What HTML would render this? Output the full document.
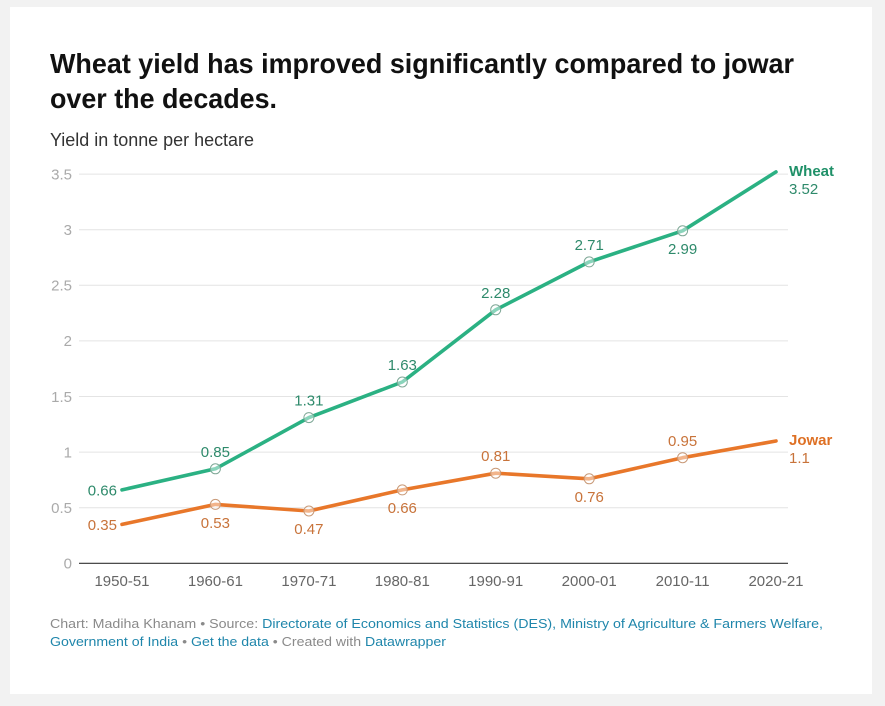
<!DOCTYPE html>
<html>
<head>
<meta charset="utf-8">
<style>
  html, body { margin: 0; padding: 0; background: #f2f2f2; }
  svg { display: block; }
  text { font-family: "Liberation Sans", Arial, sans-serif; }
</style>
</head>
<body>
<svg width="885" height="706" viewBox="0 0 885 706" xmlns="http://www.w3.org/2000/svg">
  <rect x="0" y="0" width="885" height="706" fill="#f2f2f2"/>
  <rect x="10" y="7" width="862" height="687" fill="#ffffff"/>

  <!-- Title -->
  <text x="50" y="73" font-size="28" font-weight="bold" fill="#111" textLength="744" lengthAdjust="spacingAndGlyphs">Wheat yield has improved significantly compared to jowar</text>
  <text x="50" y="108" font-size="28" font-weight="bold" fill="#111" textLength="227" lengthAdjust="spacingAndGlyphs">over the decades.</text>
  <text x="50" y="146" font-size="18" fill="#333" textLength="204" lengthAdjust="spacingAndGlyphs">Yield in tonne per hectare</text>

  <!-- Gridlines -->
  <g stroke="#e4e4e4" stroke-width="1">
    <line x1="79" y1="174.1" x2="788" y2="174.1"/>
    <line x1="79" y1="229.7" x2="788" y2="229.7"/>
    <line x1="79" y1="285.3" x2="788" y2="285.3"/>
    <line x1="79" y1="340.9" x2="788" y2="340.9"/>
    <line x1="79" y1="396.5" x2="788" y2="396.5"/>
    <line x1="79" y1="452.1" x2="788" y2="452.1"/>
    <line x1="79" y1="507.7" x2="788" y2="507.7"/>
  </g>
  <line x1="79" y1="563.3" x2="788" y2="563.3" stroke="#333" stroke-width="1.2"/>

  <!-- Y tick labels -->
  <g font-size="15" fill="#aaaaaa" text-anchor="end">
    <text x="72" y="179.5">3.5</text>
    <text x="72" y="235">3</text>
    <text x="72" y="290.5">2.5</text>
    <text x="72" y="346">2</text>
    <text x="72" y="402">1.5</text>
    <text x="72" y="457.5">1</text>
    <text x="72" y="513">0.5</text>
    <text x="72" y="568.5">0</text>
  </g>

  <!-- X tick labels -->
  <g font-size="15" fill="#666" text-anchor="middle">
    <text x="122" y="586">1950-51</text>
    <text x="215.4" y="586">1960-61</text>
    <text x="308.9" y="586">1970-71</text>
    <text x="402.3" y="586">1980-81</text>
    <text x="495.7" y="586">1990-91</text>
    <text x="589.2" y="586">2000-01</text>
    <text x="682.6" y="586">2010-11</text>
    <text x="776" y="586">2020-21</text>
  </g>

  <!-- Jowar line -->
  <polyline fill="none" stroke="#e8772a" stroke-width="3.6" stroke-linejoin="round" stroke-linecap="round"
    points="122,524.4 215.4,504.4 308.9,511 402.3,489.9 495.7,473.2 589.2,478.8 682.6,457.7 776,441"/>
  <!-- Wheat line -->
  <polyline fill="none" stroke="#2bb183" stroke-width="3.6" stroke-linejoin="round" stroke-linecap="round"
    points="122,489.9 215.4,468.8 308.9,417.6 402.3,382 495.7,309.8 589.2,261.9 682.6,230.8 776,171.9"/>

  <!-- markers -->
  <g fill="#ffffff" fill-opacity="0.45" stroke-width="1" >
    <g stroke="#7fa897">
      <circle cx="215.4" cy="468.8" r="5"/>
      <circle cx="308.9" cy="417.6" r="5"/>
      <circle cx="402.3" cy="382" r="5"/>
      <circle cx="495.7" cy="309.8" r="5"/>
      <circle cx="589.2" cy="261.9" r="5"/>
      <circle cx="682.6" cy="230.8" r="5"/>
    </g>
    <g stroke="#c99a78">
      <circle cx="215.4" cy="504.4" r="5"/>
      <circle cx="308.9" cy="511" r="5"/>
      <circle cx="402.3" cy="489.9" r="5"/>
      <circle cx="495.7" cy="473.2" r="5"/>
      <circle cx="589.2" cy="478.8" r="5"/>
      <circle cx="682.6" cy="457.7" r="5"/>
    </g>
  </g>

  <!-- Wheat value labels -->
  <g font-size="15" fill="#2e8a6b" text-anchor="middle">
    <text x="117" y="495.5" text-anchor="end">0.66</text>
    <text x="215.4" y="457">0.85</text>
    <text x="308.9" y="405.6">1.31</text>
    <text x="402.3" y="370">1.63</text>
    <text x="495.7" y="298">2.28</text>
    <text x="589.2" y="250">2.71</text>
    <text x="682.6" y="254">2.99</text>
  </g>
  <!-- Jowar value labels -->
  <g font-size="15" fill="#c8733a" text-anchor="middle">
    <text x="117" y="530" text-anchor="end">0.35</text>
    <text x="215.4" y="528">0.53</text>
    <text x="308.9" y="534">0.47</text>
    <text x="402.3" y="513">0.66</text>
    <text x="495.7" y="461">0.81</text>
    <text x="589.2" y="502">0.76</text>
    <text x="682.6" y="446">0.95</text>
  </g>

  <!-- End labels -->
  <text x="789" y="176" font-size="15" font-weight="bold" fill="#1f9068">Wheat</text>
  <text x="789" y="194" font-size="15" fill="#2e8a6b">3.52</text>
  <text x="789" y="445" font-size="15" font-weight="bold" fill="#de7024">Jowar</text>
  <text x="789" y="463" font-size="15" fill="#c8733a">1.1</text>

  <!-- Footer -->
  <text x="50" y="628" font-size="13" fill="#8a8a8a" textLength="773" lengthAdjust="spacingAndGlyphs">Chart: Madiha Khanam • Source: <tspan fill="#1f86ab">Directorate of Economics and Statistics (DES), Ministry of Agriculture &amp; Farmers Welfare,</tspan></text>
  <text x="50" y="646" font-size="13" fill="#8a8a8a" textLength="396" lengthAdjust="spacingAndGlyphs"><tspan fill="#1f86ab">Government of India</tspan> • <tspan fill="#1f86ab">Get the data</tspan> • Created with <tspan fill="#1f86ab">Datawrapper</tspan></text>
</svg>
</body>
</html>
